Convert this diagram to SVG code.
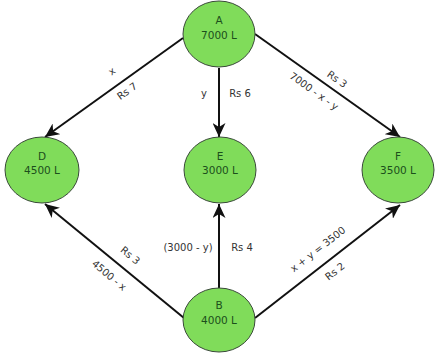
<svg xmlns="http://www.w3.org/2000/svg" width="435" height="353" viewBox="0 0 435 353">
<defs>
<style>
.node ellipse{fill:#80dc5a;stroke:#3a4a3a;stroke-width:1}
.node text{font-family:"DejaVu Sans",sans-serif;font-size:10.5px;fill:#1c4f1c;text-anchor:middle}
.edge{stroke:#111;stroke-width:2;fill:none;marker-end:url(#ah)}
.lbl{font-family:"DejaVu Sans",sans-serif;font-size:10px;fill:#333;text-anchor:middle}
</style>
<marker id="ah" markerUnits="userSpaceOnUse" markerWidth="15" markerHeight="13" refX="14" refY="6.5" orient="auto" viewBox="0 0 15 13">
<path d="M0,0 L14,6.5 L0,13 L4,6.5 Z" fill="#111"/>
</marker>
</defs>
<rect width="435" height="353" fill="#fff"/>
<g id="connectors">
<line class="edge" x1="183" y1="38" x2="45" y2="137"/>
<line class="edge" x1="219" y1="68" x2="219" y2="137"/>
<line class="edge" x1="255" y1="34" x2="400" y2="137"/>
<line class="edge" x1="184" y1="318" x2="45" y2="204"/>
<line class="edge" x1="219" y1="288" x2="219" y2="204"/>
<line class="edge" x1="255" y1="318" x2="400" y2="205"/>
<text class="lbl" transform="translate(114,74) rotate(-36)">x</text>
<text class="lbl" transform="translate(129,94) rotate(-36)">Rs 7</text>
<text class="lbl" x="204" y="97">y</text>
<text class="lbl" x="240" y="97">Rs 6</text>
<text class="lbl" transform="translate(335,82) rotate(35.5)">Rs 3</text>
<text class="lbl" transform="translate(312,94) rotate(35.5)">7000 - x - y</text>
<text class="lbl" x="188" y="251">(3000 - y)</text>
<text class="lbl" x="242" y="251">Rs 4</text>
<text class="lbl" transform="translate(128,258) rotate(40)">Rs 3</text>
<text class="lbl" transform="translate(107,278) rotate(40)">4500 - x</text>
<text class="lbl" transform="translate(320,252) rotate(-38)">x + y = 3500</text>
<text class="lbl" transform="translate(337,274) rotate(-38)">Rs 2</text>
</g>
<g id="A" class="node"><ellipse cx="219" cy="34" rx="36" ry="33"/><text x="219" y="24">A</text><text x="219" y="39">7000 L</text></g>
<g id="D" class="node"><ellipse cx="42" cy="170" rx="37" ry="33"/><text x="42" y="160">D</text><text x="42" y="174">4500 L</text></g>
<g id="E" class="node"><ellipse cx="220" cy="170" rx="36" ry="33"/><text x="220" y="160">E</text><text x="220" y="174">3000 L</text></g>
<g id="F" class="node"><ellipse cx="398" cy="170" rx="36" ry="33"/><text x="398" y="160">F</text><text x="398" y="174">3500 L</text></g>
<g id="B" class="node"><ellipse cx="219" cy="320" rx="36" ry="32"/><text x="219" y="309">B</text><text x="219" y="324">4000 L</text></g>
</svg>
